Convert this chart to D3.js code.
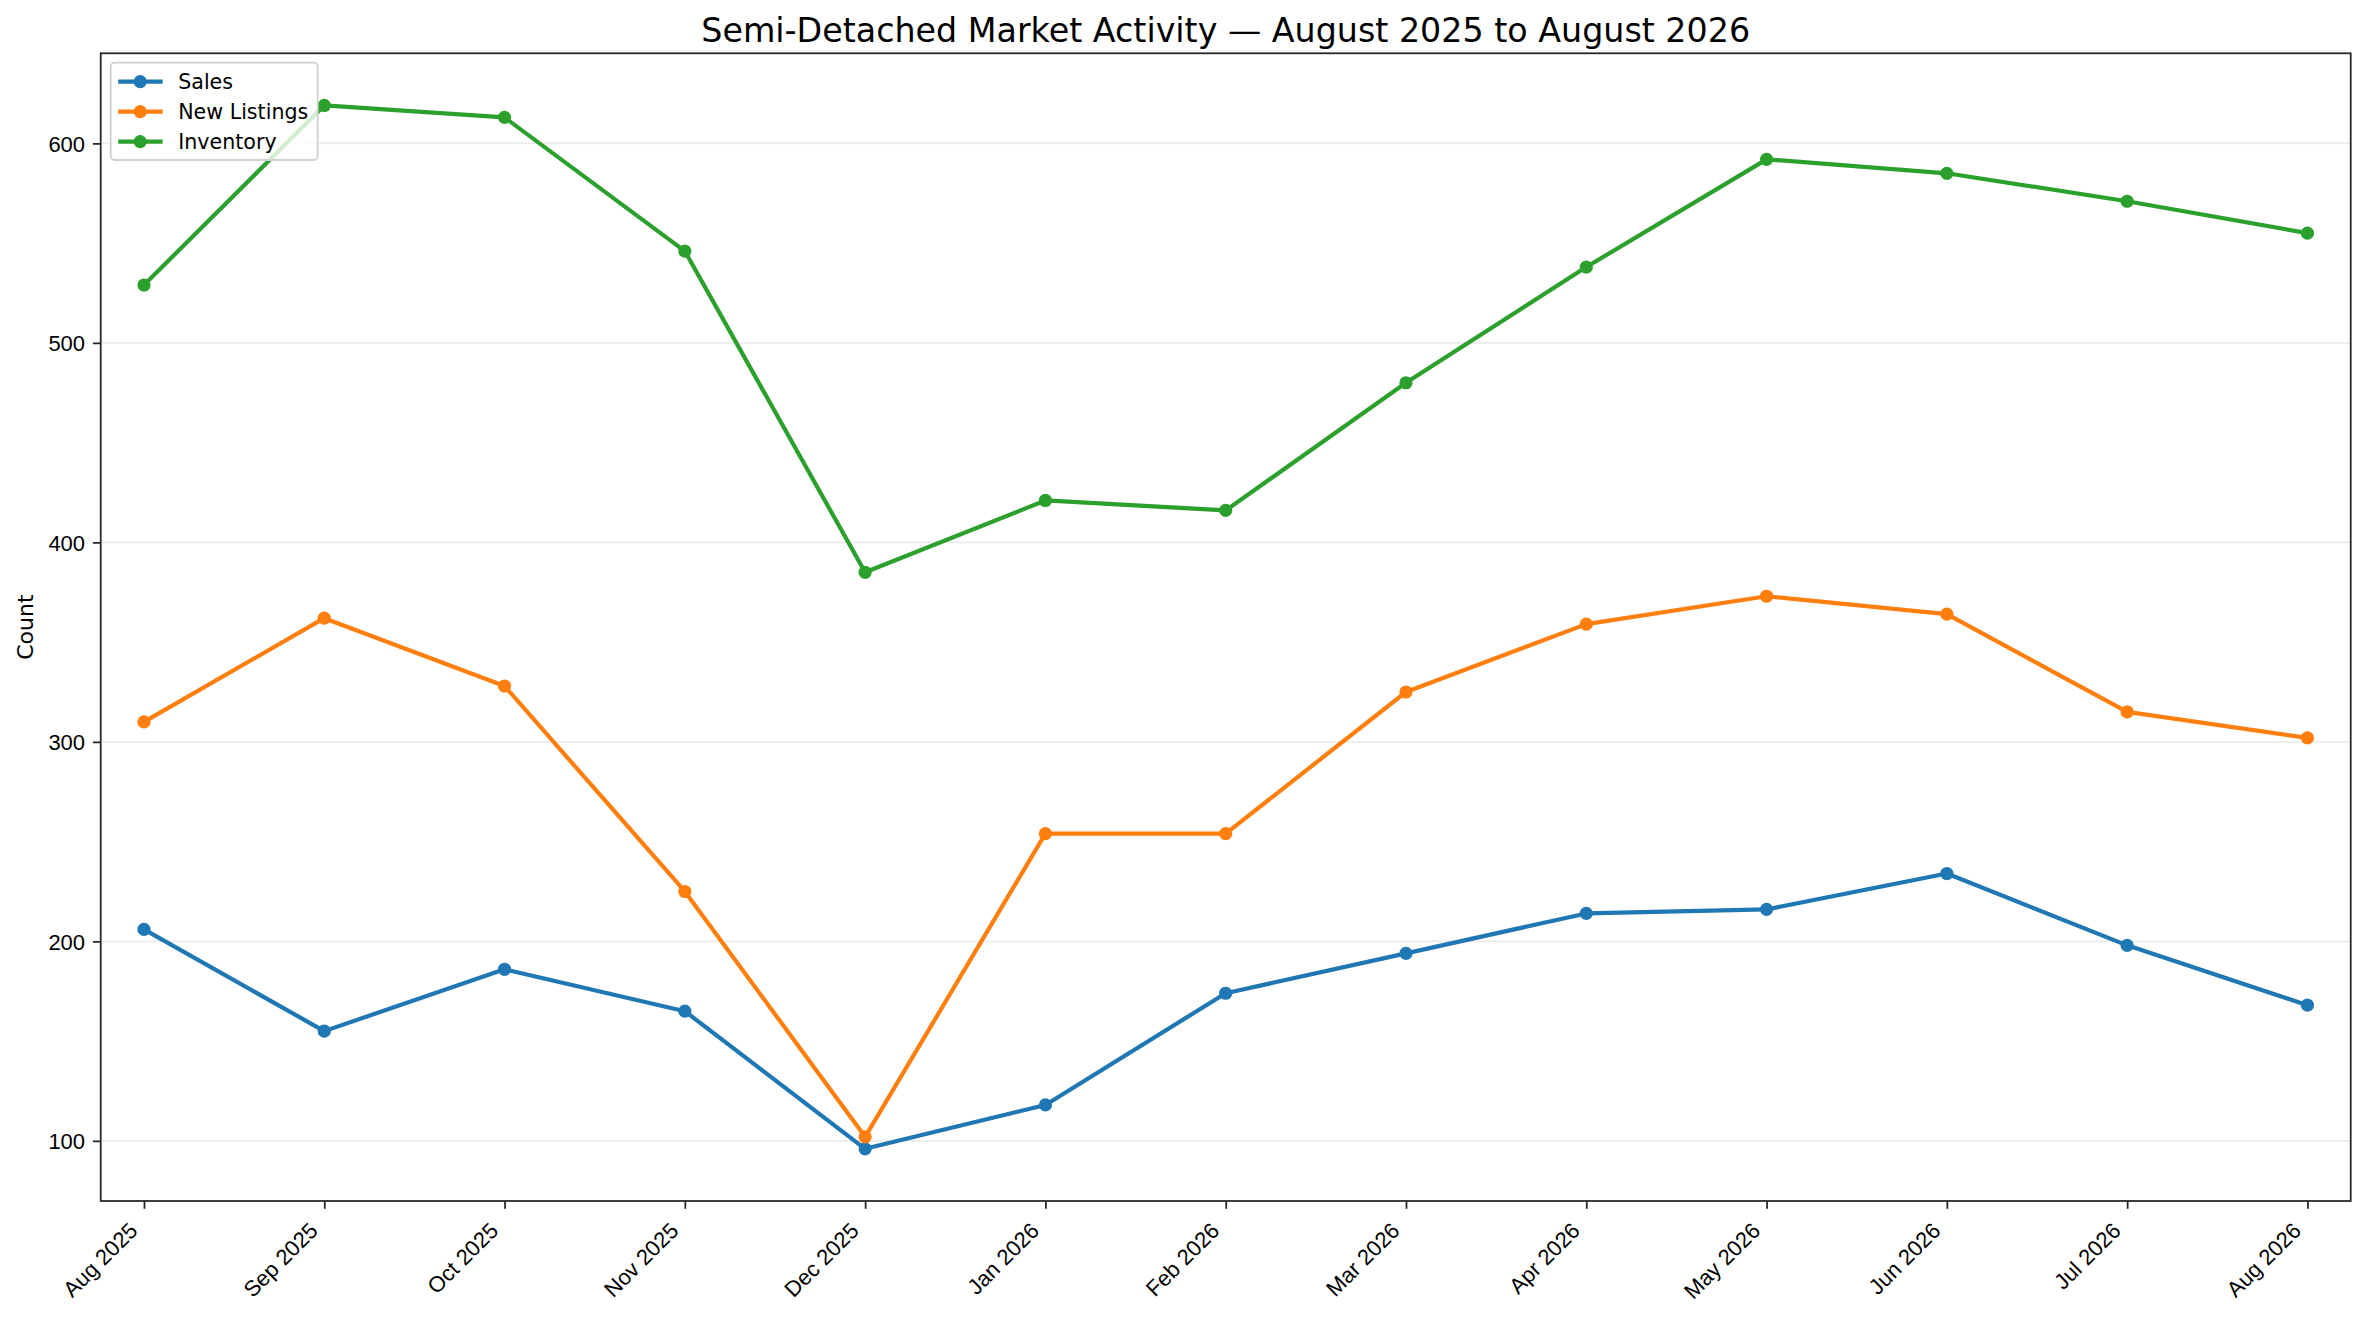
<!DOCTYPE html>
<html>
<head>
<meta charset="utf-8">
<script src="https://cdn.jsdelivr.net/npm/d3@7"></script>
<style>
  body { margin: 0; background: #fff; }
  svg { display: block; font-family: "DejaVu Sans", sans-serif; }
  .axis text { font-size: 22px; fill: #000; }
  .axis line { stroke: #262626; stroke-width: 1.78; }
  .axis path { display: none; }
  .grid line { stroke: #ebebeb; stroke-width: 1.6; }
</style>
</head>
<body>
<div id="chart"></div>
<script>
// monthly values
const months = ["Aug 2025", "Sep 2025", "Oct 2025", "Nov 2025", "Dec 2025", "Jan 2026",
  "Feb 2026", "Mar 2026", "Apr 2026", "May 2026", "Jun 2026", "Jul 2026", "Aug 2026"];
const sales = [206, 155, 186, 165, 96, 118, 174, 194, 214, 216, 234, 198, 168];
const newListings = [310, 362, 328, 225, 102, 254, 254, 325, 359, 373, 364, 315, 302];
const inventory = [529, 619, 613, 546, 385, 421, 416, 480, 538, 592, 585, 571, 555];
const yTicks = [100, 200, 300, 400, 500, 600];

const seriesNames = ["Sales", "New Listings", "Inventory"];
const seriesColors = ["#1f77b4", "#ff7f0e", "#2ca02c"];

class makeLineChart {

    constructor(opts) {
        this.element = opts.element;
        this.series = opts.series;
        this.update();
    }

    _setDimensions() {
        this.totalWidth = 2365;
        this.totalHeight = 1318;
        this.margin = { top: 53.3, right: 14.3, bottom: 117, left: 100.7 };
        this.width = this.totalWidth - this.margin.left - this.margin.right;
        this.height = this.totalHeight - this.margin.top - this.margin.bottom;
    }

    _setScales() {
        this.xScale = d3.scalePoint()
            .domain(months)
            .range([0, this.width])
            .padding(0.24);

        // matplotlib style 5% margin on the data extent
        let all = [].concat(...this.series.map(s => s.values));
        let lo = d3.min(all), hi = d3.max(all), pad = (hi - lo) * 0.05;
        this.yScale = d3.scaleLinear()
            .domain([lo - pad, hi + pad])
            .range([this.height, 0]);

        this.xAxis = d3.axisBottom(this.xScale).tickSize(7.8).tickPadding(7.8);
        this.yAxis = d3.axisLeft(this.yScale).tickValues(yTicks).tickSize(7.8).tickPadding(7.8);
    }

    update() {
        this._setDimensions();
        this._setScales();
        this.draw();
    }

    draw() {
        this.element.innerHTML = "";

        this.svg = d3.select(this.element).append("svg")
            .attr("width", this.totalWidth)
            .attr("height", this.totalHeight);

        this.svg.append("rect")
            .attr("width", this.totalWidth)
            .attr("height", this.totalHeight)
            .attr("fill", "#fff");

        this.plot = this.svg.append("g")
            .attr("transform", `translate(${this.margin.left},${this.margin.top})`);

        // horizontal grid
        this.plot.append("g")
            .attr("class", "grid")
            .selectAll("line")
            .data(yTicks)
            .enter().append("line")
            .attr("x1", 0)
            .attr("x2", this.width)
            .attr("y1", d => this.yScale(d))
            .attr("y2", d => this.yScale(d));

        let xg = this.plot.append("g")
            .attr("class", "axis axis--x")
            .attr("transform", `translate(0,${this.height})`)
            .call(this.xAxis);

        xg.selectAll(".tick text")
            .attr("text-anchor", "end")
            .attr("y", 0)
            .attr("dy", 0)
            .attr("transform", "translate(-5.5,31) rotate(-45)");

        let yg = this.plot.append("g")
            .attr("class", "axis axis--y")
            .call(this.yAxis);
        yg.selectAll(".tick text").attr("dy", "0.35em");

        this.svg.append("text")
            .attr("transform", `translate(25,${this.margin.top + this.height / 2}) rotate(-90)`)
            .attr("text-anchor", "middle")
            .attr("dy", "0.35em")
            .style("font-size", "22px")
            .text("Count");

        this.svg.append("text")
            .attr("x", this.margin.left + this.width / 2)
            .attr("y", 42)
            .attr("text-anchor", "middle")
            .style("font-size", "33.3px")
            .text("Semi-Detached Market Activity \u2014 August 2025 to August 2026");

        this.drawLines();

        // spines
        this.plot.append("rect")
            .attr("width", this.width)
            .attr("height", this.height)
            .attr("fill", "none")
            .attr("stroke", "#262626")
            .attr("stroke-width", 1.78);

        this.drawLegend();
    }

    drawLines() {
        let line = d3.line()
            .x((d, i) => this.xScale(months[i]))
            .y(d => this.yScale(d));

        this.series.forEach(s => {
            this.plot.append("path")
                .datum(s.values)
                .attr("fill", "none")
                .attr("stroke", s.color)
                .attr("stroke-width", 4.2)
                .attr("stroke-linejoin", "round")
                .attr("d", line);

            this.plot.selectAll(null)
                .data(s.values)
                .enter().append("circle")
                .attr("cx", (d, i) => this.xScale(months[i]))
                .attr("cy", d => this.yScale(d))
                .attr("r", 6.6)
                .attr("fill", s.color);
        });
    }

    drawLegend() {
        let lg = this.svg.append("g").attr("transform", "translate(110.7,62.7)");

        lg.append("rect")
            .attr("width", 207)
            .attr("height", 97.3)
            .attr("rx", 4)
            .attr("fill", "rgba(255,255,255,0.8)")
            .attr("stroke", "#d0d0d0")
            .attr("stroke-width", 1.78);

        let rows = lg.selectAll(".row")
            .data(this.series)
            .enter().append("g")
            .attr("transform", (d, i) => `translate(0,${19 + i * 30})`);

        rows.append("line")
            .attr("x1", 7.5).attr("x2", 52)
            .attr("stroke", d => d.color)
            .attr("stroke-width", 4.2);

        rows.append("circle")
            .attr("cx", 29.5)
            .attr("r", 6.6)
            .attr("fill", d => d.color);

        rows.append("text")
            .attr("x", 67.5)
            .attr("dy", "0.35em")
            .style("font-size", "20.6px")
            .text(d => d.name);
    }
}

new makeLineChart({
    element: document.getElementById("chart"),
    series: [sales, newListings, inventory].map((v, i) => ({
        name: seriesNames[i], color: seriesColors[i], values: v
    }))
});
</script>
</body>
</html>
